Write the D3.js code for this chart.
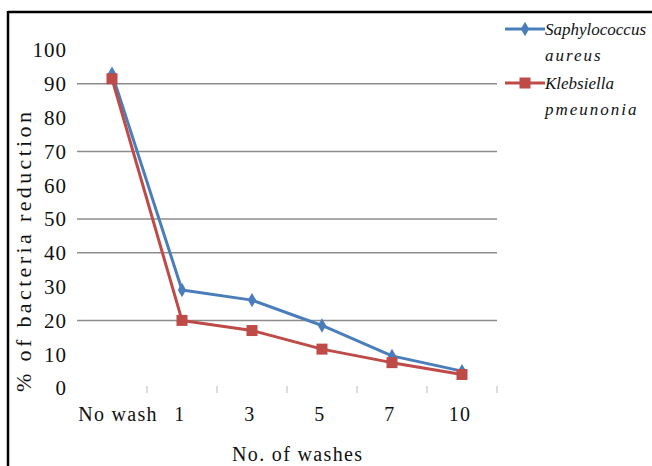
<!DOCTYPE html>
<html>
<head>
<meta charset="utf-8">
<script src="https://cdn.jsdelivr.net/npm/d3@7"></script>
<style>
  html, body { margin: 0; padding: 0; background: #fff; }
  svg { display: block; }
</style>
</head>
<body>
<script>
// ---- data ----
const categories = ["No wash", "1", "3", "5", "7", "10"];
const staphValues = [93, 29, 26, 18.5, 9.5, 5];
const klebValues = [91.5, 20, 17, 11.5, 7.5, 4];
const yTickValues = [0, 10, 20, 30, 40, 50, 60, 70, 80, 90, 100];
const gridValues = [20, 40, 50, 70, 90];
const seriesNames = [["Saphylococcus", "aureus"], ["Klebsiella", "pmeunonia"]];
const xTitle = "No. of washes";
const yTitle = "% of bacteria reduction";

// ---- layout ----
const W = 652, H = 466;
const plot = { left: 77, right: 497, top: 50, bottom: 388 };
const colors = ["#4A7EBB", "#BE4B48"];
const FONT = "'Liberation Serif', 'Times New Roman', Times, serif";

const svg = d3.select("body").append("svg").attr("width", W).attr("height", H)
  .style("font-family", FONT);

const x = d3.scaleBand().domain(categories).range([plot.left, plot.right]).paddingInner(0).paddingOuter(0);
const y = d3.scaleLinear().domain([0, 100]).range([plot.bottom, plot.top]);
const cx = c => x(c) + x.bandwidth() / 2;

// frame
svg.append("line").attr("x1", 8).attr("x2", W).attr("y1", 12).attr("y2", 12)
  .attr("stroke", "#000").attr("stroke-width", 2.5);
svg.append("line").attr("x1", 8).attr("x2", 8).attr("y1", 11).attr("y2", H)
  .attr("stroke", "#000").attr("stroke-width", 2.5);

// gridlines
svg.append("g").selectAll("line").data(gridValues).join("line")
  .attr("x1", plot.left).attr("x2", plot.right)
  .attr("y1", d => y(d)).attr("y2", d => y(d))
  .attr("stroke", "#8c8c8c").attr("stroke-width", 1.5);

// y tick labels
svg.append("g").selectAll("text").data(yTickValues).join("text")
  .attr("x", 67).attr("y", d => y(d)).attr("dy", "0.35em")
  .attr("text-anchor", "end").attr("fill", "#111")
  .style("font-size", "21px").style("letter-spacing", "1px")
  .text(d => d);

// x tick marks at category boundaries
svg.append("g").selectAll("line").data(categories).join("line")
  .attr("x1", d => x(d) + x.bandwidth()).attr("x2", d => x(d) + x.bandwidth())
  .attr("y1", 386).attr("y2", 393)
  .attr("stroke", "#bbb").attr("stroke-width", 1);

// x labels
svg.append("g").selectAll("text").data(categories).join("text")
  .attr("x", (d, i) => cx(d) + (i === 0 ? 6 : -2)).attr("y", 421)
  .attr("text-anchor", "middle").attr("fill", "#111")
  .style("font-size", "20px").style("letter-spacing", "1.3px")
  .text(d => d);

// axis titles
svg.append("text").attr("x", 297).attr("y", 461).attr("text-anchor", "middle")
  .attr("fill", "#111")
  .style("font-size", "20px")
  .attr("textLength", 130).attr("lengthAdjust", "spacing")
  .text(xTitle);
svg.append("text").attr("transform", "translate(31,252) rotate(-90)")
  .attr("text-anchor", "middle").attr("fill", "#111")
  .style("font-size", "22px")
  .attr("textLength", 280).attr("lengthAdjust", "spacing")
  .text(yTitle);

// series
const allSeries = [staphValues, klebValues];
const line = d3.line().x((d, i) => cx(categories[i])).y(d => y(d));
const diamond = d3.symbol().type(d3.symbolDiamond).size(60);

allSeries.forEach((vals, si) => {
  const g = svg.append("g");
  g.append("path").datum(vals).attr("d", line)
    .attr("fill", "none").attr("stroke", colors[si]).attr("stroke-width", 3)
    .attr("stroke-linejoin", "round");
  if (si === 0) {
    g.selectAll("path.m").data(vals).join("path").attr("class", "m")
      .attr("d", diamond)
      .attr("transform", (d, i) => `translate(${cx(categories[i])},${y(d)})`)
      .attr("fill", colors[si]);
  } else {
    const s = 11;
    g.selectAll("rect.m").data(vals).join("rect").attr("class", "m")
      .attr("x", (d, i) => cx(categories[i]) - s / 2).attr("y", d => y(d) - s / 2)
      .attr("width", s).attr("height", s)
      .attr("fill", colors[si]);
  }
});

// legend
const legY = [29, 83];
seriesNames.forEach((names, si) => {
  const g = svg.append("g");
  g.append("line").attr("x1", 505).attr("x2", 545).attr("y1", legY[si]).attr("y2", legY[si])
    .attr("stroke", colors[si]).attr("stroke-width", 3);
  if (si === 0) {
    g.append("path").attr("d", diamond).attr("transform", `translate(525,${legY[si]})`).attr("fill", colors[si]);
  } else {
    g.append("rect").attr("x", 525 - 5.5).attr("y", legY[si] - 5.5).attr("width", 11).attr("height", 11).attr("fill", colors[si]);
  }
  names.forEach((t, j) => {
    g.append("text").attr("x", 545).attr("y", legY[si] + 6 + j * 26)
      .attr("fill", "#111")
      .style("font-size", "17px").style("font-style", "italic")
      .style("letter-spacing", j === 0 ? "0px" : "2px")
      .text(t);
  });
});
</script>
</body>
</html>
